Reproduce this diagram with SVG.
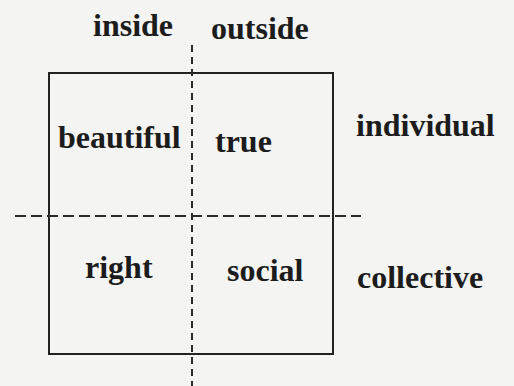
<svg xmlns="http://www.w3.org/2000/svg" width="514" height="386" viewBox="0 0 514 386">
<style>
text{font-family:"Liberation Serif","Times New Roman",serif;font-weight:bold;font-size:32px;fill:#1c1c1c}
.box{fill:none;stroke:#222;stroke-width:2}
.axis{stroke:#2a2a2a;stroke-width:2;fill:none}
.h{stroke-dasharray:11 5}
.v{stroke-dasharray:7 5}
</style>
<rect x="0" y="0" width="514" height="386" fill="#f4f4f3"/>
<g id="frame"><rect class="box" x="49" y="73" width="284" height="281"/></g>
<g id="connectors">
<line class="axis h" x1="15" y1="216" x2="361" y2="216"/>
<line class="axis v" x1="192" y1="45" x2="192" y2="386"/>
</g>
<g id="inside"><text x="93" y="36">inside</text></g>
<g id="outside"><text x="211" y="39">outside</text></g>
<g id="individual"><text x="356" y="136">individual</text></g>
<g id="collective"><text x="357" y="288">collective</text></g>
<g id="beautiful"><text x="58" y="148">beautiful</text></g>
<g id="true"><text x="215" y="152">true</text></g>
<g id="right"><text x="85" y="278">right</text></g>
<g id="social"><text x="227" y="281">social</text></g>
</svg>
